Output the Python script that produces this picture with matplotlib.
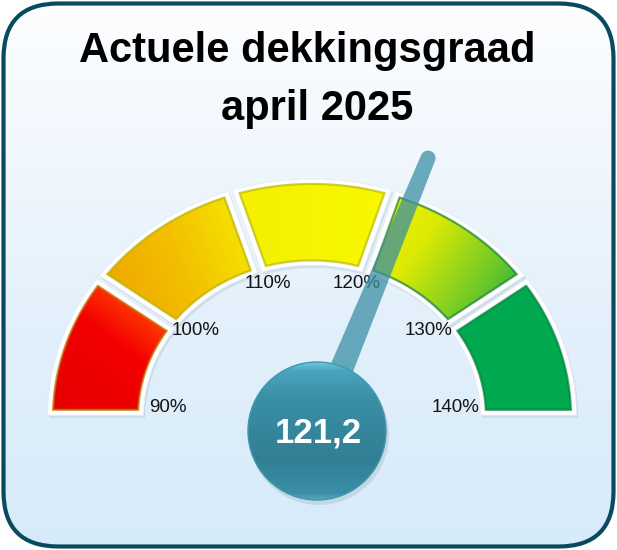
import numpy as np
import matplotlib
matplotlib.use('Agg')
import matplotlib.pyplot as plt
from matplotlib.patches import Polygon, FancyBboxPatch, Circle, Ellipse
from matplotlib.colors import to_rgb

# ---------------- data ----------------
title_lines = ['Actuele dekkingsgraad', 'april 2025']
tick_values = [90, 100, 110, 120, 130, 140]
tick_labels = ['90%', '100%', '110%', '120%', '130%', '140%']
value = 121.2
value_label = '121,2'
# colour stops per band (90-100, 100-110, 110-120, 120-130, 130-140)
band_stops = [
    [(0.0, '#e60000'), (0.55, '#f30000'), (0.8, '#ff3a00'), (1.0, '#ff9800')],
    [(0.0, '#eea400'), (0.5, '#f3c000'), (1.0, '#f6ec00')],
    [(0.0, '#f4f000'), (1.0, '#f8f800')],
    [(0.0, '#f2f200'), (0.35, '#dcea04'), (0.75, '#6cc82a'), (1.0, '#1eaa42')],
    [(0.0, '#00a84f'), (1.0, '#00aa50')],
]
band_dirs = [(1.0, -1.3), (1.0, -0.4), (1.0, 0.0), (1.0, 0.7), (1.0, 0.0)]

# ---------------- layout ----------------
W, H = 617, 550
fig = plt.figure(figsize=(W / 100, H / 100), dpi=100)
ax = fig.add_axes([0, 0, 1, 1])
ax.set_xlim(0, W)
ax.set_ylim(H, 0)
ax.axis('off')

def grad_image(extent, direction, stops, clip, z, n=200):
    x0, x1, y0, y1 = extent
    xs = np.linspace(x0, x1, n)
    ys = np.linspace(y0, y1, n)
    X, Y = np.meshgrid(xs, ys)
    dx, dy = direction
    P = X * dx + Y * dy
    t = (P - P.min()) / max(P.max() - P.min(), 1e-9)
    pos = [s[0] for s in stops]
    cols = np.array([to_rgb(s[1]) for s in stops])
    img = np.dstack([np.interp(t, pos, cols[:, c]) for c in range(3)])
    im = ax.imshow(img, extent=(x0, x1, y1, y0), origin='upper',
                   interpolation='bilinear', zorder=z, aspect='auto')
    im.set_clip_path(clip)
    return im

# background frame
frame = FancyBboxPatch((3.5, 3.5), 610, 543, boxstyle='round,pad=0,rounding_size=55',
                       facecolor='none', edgecolor='none', transform=ax.transData)
ax.add_patch(frame)
grad_image((0, W, 0, H), (0, 1), [(0.0, '#fdfeff'), (0.15, '#f6fafe'), (0.6, '#e2f0fb'), (1.0, '#d6ebfa')],
           frame, 0)
border = FancyBboxPatch((3.5, 3.5), 610, 543, boxstyle='round,pad=0,rounding_size=55',
                        facecolor='none', edgecolor='#0a4a5e', lw=3.0, zorder=20)
ax.add_patch(border)

# gauge geometry
cx, cy = 312, 417
k = 0.9
r_in, r_out = 174, 259
vmin, vmax = tick_values[0], tick_values[-1]

def val2ang(v):
    return np.pi * (vmax - v) / (vmax - vmin)

def sector(r0, r1, a0, a1, d):
    n = 80
    th_o = np.linspace(a0 - d / r1, a1 + d / r1, n)
    th_i = np.linspace(a1 + d / r0, a0 - d / r0, n)
    xs = np.r_[cx + r1 * np.cos(th_o), cx + r0 * np.cos(th_i)]
    ys = np.r_[cy - k * r1 * np.sin(th_o), cy - k * r0 * np.sin(th_i)]
    return np.column_stack([xs, ys])

for i in range(len(tick_values) - 1):
    a0 = val2ang(tick_values[i])
    a1 = val2ang(tick_values[i + 1])
    wpts = sector(r_in - 5.5, r_out + 5.5, a0, a1, 2.0)
    sh = Polygon(wpts + np.array([1.5, 2.5]), closed=True, facecolor='#9fb0bc', alpha=0.3,
                 edgecolor='none', zorder=1)
    ax.add_patch(sh)
    wp = Polygon(wpts, closed=True, facecolor='white', edgecolor='#e4ecf2', lw=0.6, zorder=2)
    ax.add_patch(wp)
    cpts = sector(r_in, r_out, a0, a1, 8.0)
    cp = Polygon(cpts, closed=True, facecolor='none', edgecolor='none', zorder=3)
    ax.add_patch(cp)
    ext = (cpts[:, 0].min(), cpts[:, 0].max(), cpts[:, 1].min(), cpts[:, 1].max())
    grad_image(ext, band_dirs[i], band_stops[i], cp, 3)
    dark = np.array(to_rgb(band_stops[i][-1][1])) * 0.75
    ax.add_patch(Polygon(cpts, closed=True, facecolor='none', edgecolor=dark, lw=1.6,
                         alpha=0.7, zorder=4))

# tick labels
r_lab = 144
for v, lab in zip(tick_values, tick_labels):
    a = val2ang(v)
    x = cx + r_lab * np.cos(a)
    y = cy - 10 - k * r_lab * np.sin(a)
    ax.text(x, y, lab, ha='center', va='center', fontsize=13.5,
            family='Liberation Sans', color='#141414', zorder=5)

# needle
px, py = 316, 431
a = val2ang(value)
L = 295
u = np.array([np.cos(a), -np.sin(a)])
nrm = np.array([np.sin(a), np.cos(a)])
base = np.array([px, py])
tip = base + L * u
hb, ht = 13.0, 7.5
arc = np.linspace(-np.pi / 2, np.pi / 2, 30)
cap = [tip + ht * (np.cos(t) * u + np.sin(t) * nrm) for t in arc]
npts = np.vstack([base - hb * nrm, tip - ht * nrm, *cap, tip + ht * nrm, base + hb * nrm])
ax.add_patch(Polygon(npts, closed=True, facecolor='#3a8ea4', edgecolor='none', alpha=0.74, zorder=6))

# hub circle
ccx, ccy, cr = 317, 431, 69
ax.add_patch(Ellipse((ccx + 2, ccy + 4), 2 * cr + 2, 2 * cr + 2, facecolor='#8a9aa4', alpha=0.25,
                     edgecolor='none', zorder=6.5))
hub = Circle((ccx, ccy), cr, facecolor='none', edgecolor='none', zorder=7)
ax.add_patch(hub)
grad_image((ccx - cr, ccx + cr, ccy - cr, ccy + cr), (0, 1),
           [(0.0, '#6cc8e0'), (0.06, '#4aa5bd'), (0.25, '#3a90a7'), (0.7, '#317f94'), (0.95, '#3a8ea6'),
            (1.0, '#55aac2')], hub, 7)
ax.add_patch(Circle((ccx, ccy), cr, facecolor='none', edgecolor='#3f97ae', lw=1.0, zorder=7.5))
ax.text(ccx + 1, 442, value_label, ha='center', va='baseline', fontsize=25, fontweight='bold',
        family='Liberation Sans', color='white', zorder=8)

# title
ax.text(307, 62, title_lines[0], ha='center', va='baseline', fontsize=30, fontweight='bold',
        family='Liberation Sans', color='black', zorder=8)
ax.text(317, 120, title_lines[1], ha='center', va='baseline', fontsize=30, fontweight='bold',
        family='Liberation Sans', color='black', zorder=8)

fig.savefig('out.png', dpi=100, facecolor='white')
